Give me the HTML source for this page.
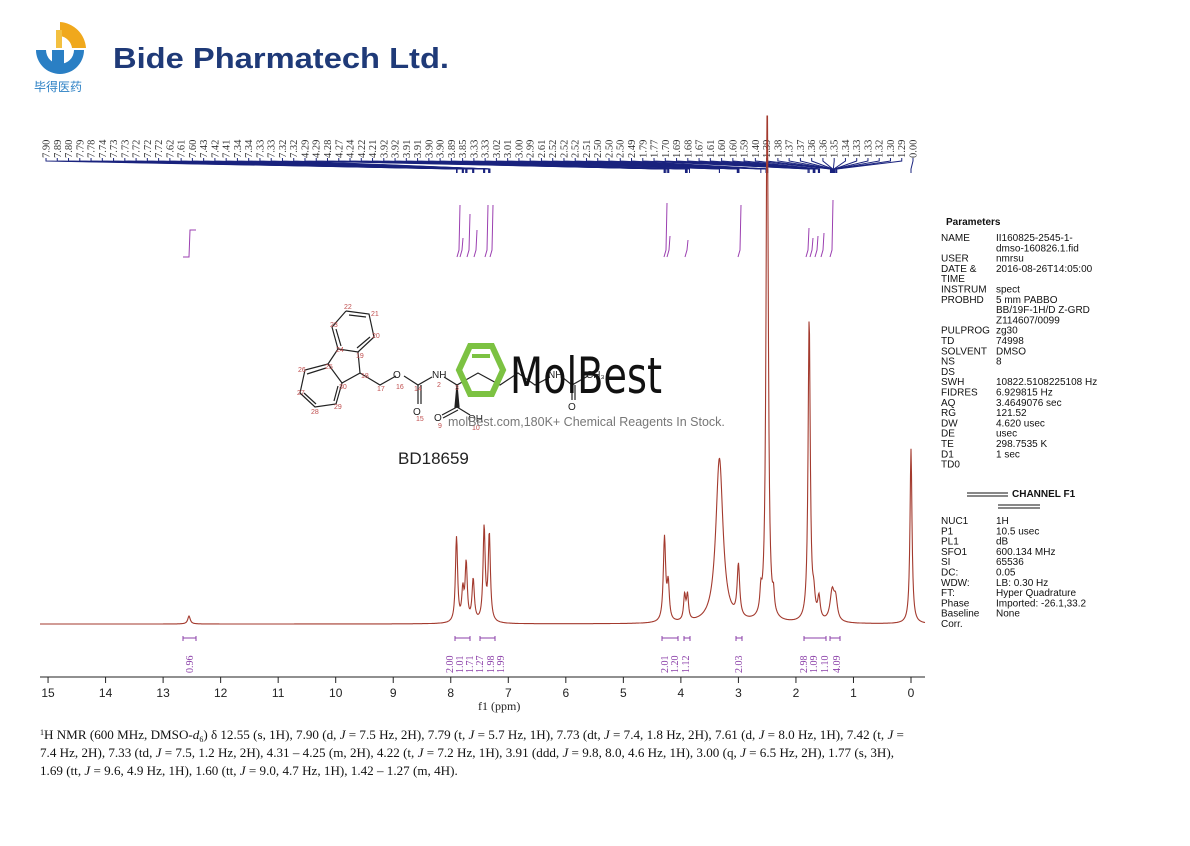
<!DOCTYPE html>
<html><head><meta charset="utf-8"><style>
body{margin:0;background:#fff;width:1190px;height:841px;overflow:hidden;font-family:"Liberation Sans",sans-serif}
</style></head><body>
<svg id="s" width="1190" height="841" xmlns="http://www.w3.org/2000/svg" font-family="Liberation Sans, sans-serif">
<g>
<path d="M36 50 A24 24 0 0 0 84 50 L74 50 A14 14 0 0 1 46 50 Z" fill="#2a7fc4"/>
<path d="M60 22 A28 28 0 0 1 86 48 L72 48 A14 14 0 0 0 60 36 Z" fill="#f0a81c"/>
<rect x="56" y="30" width="6" height="18" fill="#f3c040"/>
<rect x="52" y="50" width="12" height="16" fill="#2a7fc4"/>
<text x="34" y="91" font-size="12" fill="#2a7fc4" font-family="Noto Sans CJK SC, sans-serif">毕得医药</text>
<text x="113" y="68" font-size="29" font-weight="bold" fill="#1f3a78" textLength="336" lengthAdjust="spacingAndGlyphs">Bide Pharmatech Ltd.</text>
</g>
<g id="labels" font-family="Liberation Serif, serif" font-size="10.5" fill="#333"></g>
<g id="conn" stroke="#1a237e" stroke-width="1" fill="none"></g>
<g id="integ" stroke="#9b3fb0" stroke-width="1" fill="none"></g>
<g font-size="10" fill="#111" id="params"></g>
<g stroke="#222" stroke-width="1.2" fill="none">
<polyline points="346,311 369,314 374,337 358,352 338,349 332,327 346,311"/>
<line x1="349" y1="315" x2="366" y2="317"/><line x1="370" y1="337" x2="357" y2="348"/><line x1="336" y1="329" x2="341" y2="346"/>
<polyline points="358,352 360,373 342,383 328,364 338,349"/>
<polyline points="328,364 305,370 300,393 315,407 336,404 342,383"/>
<line x1="307" y1="374" x2="326" y2="368"/><line x1="304" y1="393" x2="316" y2="404"/><line x1="338" y1="386" x2="334" y2="401"/>
<polyline points="360,373 380,385 396,376"/>
<polyline points="404,376 418,385 432,377"/>
<line x1="418" y1="385" x2="418" y2="404"/><line x1="421" y1="385" x2="421" y2="404"/>
<polyline points="444,377 457,385 478,373 500,385 518,373 535,385 550,377"/>
<polygon points="457,385 455,407 459,407" fill="#222"/>
<line x1="457" y1="407" x2="442" y2="415"/><line x1="458" y1="410" x2="443" y2="418"/>
<line x1="457" y1="407" x2="470" y2="415"/>
<polyline points="562,377 572,385 588,376"/>
<line x1="572" y1="385" x2="572" y2="400"/><line x1="575" y1="385" x2="575" y2="400"/>
</g>
<g font-size="10" fill="#222">
<text x="393" y="378">O</text><text x="432" y="378">NH</text><text x="413" y="415">O</text><text x="434" y="421">O</text><text x="468" y="422">OH</text>
<text x="548" y="378">NH</text><text x="568" y="410">O</text><text x="586" y="378">CH₃</text>
</g>
<g font-size="7" fill="#c05050">
<text x="344" y="309">22</text><text x="371" y="316">21</text><text x="372" y="338">20</text><text x="356" y="358">19</text><text x="330" y="327">23</text><text x="336" y="352">24</text>
<text x="361" y="378">18</text><text x="325" y="369">25</text><text x="298" y="372">26</text><text x="297" y="395">27</text><text x="311" y="414">28</text><text x="334" y="409">29</text><text x="339" y="389">30</text>
<text x="377" y="391">17</text><text x="396" y="389">16</text><text x="414" y="391">14</text><text x="437" y="387">2</text><text x="416" y="421">15</text><text x="438" y="428">9</text><text x="472" y="430">10</text><text x="455" y="390">3</text>
</g>
<polygon points="470,346 492,346 503,370 492,394 470,394 459,370" fill="none" stroke="#7cc242" stroke-width="6"/>
<line x1="472" y1="356" x2="490" y2="356" stroke="#7cc242" stroke-width="4"/>
<text x="510" y="393" font-size="50" fill="#111" font-family="DejaVu Sans Condensed, DejaVu Sans, sans-serif" textLength="152" lengthAdjust="spacingAndGlyphs">MolBest</text>
<text x="448" y="426" font-size="12.5" fill="#777">molBest.com,180K+ Chemical Reagents In Stock.</text>
<text x="398" y="464" font-size="17" fill="#222">BD18659</text>
<line x1="40" y1="677" x2="925" y2="677" stroke="#222" stroke-width="1"/>
<g id="axis" font-size="12" fill="#222" text-anchor="middle"></g>
<text x="478" y="710" font-size="12" font-family="Liberation Serif, serif" fill="#222">f1 (ppm)</text>
<path id="spec" fill="none" stroke="#a33a2e" stroke-width="1.1"/>
<g id="ilab" font-family="Liberation Serif, serif" font-size="10" fill="#8b3fa8"></g>
<g font-family="Liberation Serif, serif" font-size="13.1" fill="#111">
<text x="40" y="739"><tspan font-size="8" dy="-4">1</tspan><tspan dy="4">H NMR (600 MHz, DMSO-</tspan><tspan font-style="italic">d</tspan><tspan font-size="8" dy="3">6</tspan><tspan dy="-3">) δ 12.55 (s, 1H), 7.90 (d, </tspan><tspan font-style="italic">J</tspan> = 7.5 Hz, 2H), 7.79 (t, <tspan font-style="italic">J</tspan> = 5.7 Hz, 1H), 7.73 (dt, <tspan font-style="italic">J</tspan> = 7.4, 1.8 Hz, 2H), 7.61 (d, <tspan font-style="italic">J</tspan> = 8.0 Hz, 1H), 7.42 (t, <tspan font-style="italic">J</tspan> =</text>
<text x="40" y="757">7.4 Hz, 2H), 7.33 (td, <tspan font-style="italic">J</tspan> = 7.5, 1.2 Hz, 2H), 4.31 – 4.25 (m, 2H), 4.22 (t, <tspan font-style="italic">J</tspan> = 7.2 Hz, 1H), 3.91 (ddd, <tspan font-style="italic">J</tspan> = 9.8, 8.0, 4.6 Hz, 1H), 3.00 (q, <tspan font-style="italic">J</tspan> = 6.5 Hz, 2H), 1.77 (s, 3H),</text>
<text x="40" y="775">1.69 (tt, <tspan font-style="italic">J</tspan> = 9.6, 4.9 Hz, 1H), 1.60 (tt, <tspan font-style="italic">J</tspan> = 9.0, 4.7 Hz, 1H), 1.42 – 1.27 (m, 4H).</text>
</g>
</svg>
<script>
var NS="http://www.w3.org/2000/svg";
function X(p){return 911-57.53*p;}
function el(t,a,par,txt){var e=document.createElementNS(NS,t);for(var k in a)e.setAttribute(k,a[k]);if(txt!=null)e.textContent=txt;document.getElementById(par).appendChild(e);return e;}
for(var i=0;i<=15;i++){var x=X(i);el('line',{x1:x,y1:677,x2:x,y2:683,stroke:'#222'},'axis');el('text',{x:x,y:697},'axis',String(i));}
var pk=[[12.55,8,1.5],[7.905,45,1.2],[7.895,45,1.2],[7.79,30,1.3],[7.735,40,1.2],[7.725,20,1.2],[7.61,42,1.4],[7.42,94,1.3],[7.33,87,1.3],[4.285,84,1.4],[4.22,36,1.3],[3.935,25,1.2],[3.885,25,1.2],[3.33,165,4.3],[3.00,52,1.5],[2.61,20,1.1],[2.50,560,1.3],[2.39,17,1],[1.77,304,1.3],[1.69,20,1.5],[1.60,22,1.5],[1.37,30,2.5],[1.31,20,2],[0.00,175,1.2]];
var d="";for(var x=40;x<=925;x+=0.5){var y=624;for(var j=0;j<pk.length;j++){var u=(x-X(pk[j][0]))/pk[j][2];y-=pk[j][1]/(1+u*u);}if(y<116)y=116;d+=(x==40?"M":"L")+x.toFixed(1)+" "+y.toFixed(1);}
document.getElementById('spec').setAttribute('d',d);
var L="7.90 7.89 7.80 7.79 7.78 7.74 7.73 7.73 7.72 7.72 7.72 7.62 7.61 7.60 7.43 7.42 7.41 7.34 7.34 7.33 7.33 7.32 7.32 4.29 4.29 4.28 4.27 4.24 4.22 4.21 3.92 3.92 3.91 3.91 3.90 3.90 3.89 3.85 3.33 3.33 3.02 3.01 3.00 2.99 2.61 2.52 2.52 2.52 2.51 2.50 2.50 2.50 2.49 1.79 1.77 1.70 1.69 1.68 1.67 1.61 1.60 1.60 1.59 1.40 1.39 1.38 1.37 1.37 1.36 1.36 1.35 1.34 1.33 1.33 1.32 1.30 1.29 0.00".split(" ");
var n=L.length;for(var i=0;i<n;i++){var xl=46+i*(913-46)/(n-1);var v=parseFloat(L[i]);
el('text',{x:0,y:0,transform:'translate('+(xl+3.5)+',158) rotate(-90)'},'labels',L[i]);
el('polyline',{points:xl+',158 '+xl+',161 '+X(v)+',169 '+X(v)+',173'},'conn');}
var ig=[[459,205],[462,238],[469,214],[476,230],[487,205],[492,205],[666,203],[669,236],[687,240],[740,205],[808,228],[812,238],[817,236],[823,233],[832,200]];
ig.forEach(function(a){el('path',{d:'M'+(a[0]-2)+' 257 L'+a[0]+' 250 L'+(a[0]+1)+' '+a[1]},'integ');});
el('polyline',{points:'183,257 189,257 190,230 196,230'},'integ');
var il=[[189,'0.96'],[449,'2.00'],[459,'1.01'],[469,'1.71'],[479,'1.27'],[490,'1.98'],[500,'1.99'],[664,'2.01'],[674,'1.20'],[685,'1.12'],[738,'2.03'],[803,'2.98'],[813,'1.09'],[824,'1.10'],[836,'4.09']];
il.forEach(function(a){el('text',{x:0,y:0,transform:'translate('+(a[0]+4)+',673) rotate(-90)'},'ilab',a[1]);});
[[183,196],[455,470],[480,495],[662,678],[684,690],[736,742],[804,826],[830,840]].forEach(function(b){el('path',{d:'M'+b[0]+' 641 L'+b[0]+' 636 M'+b[0]+' 638 L'+b[1]+' 638 M'+b[1]+' 641 L'+b[1]+' 636',stroke:'#8b3fa8',fill:'none'},'ilab');});
var P=[["NAME","II160825-2545-1-"],["","dmso-160826.1.fid"],["USER","nmrsu"],["DATE &","2016-08-26T14:05:00"],["TIME",""],["INSTRUM","spect"],["PROBHD","5 mm PABBO"],["","BB/19F-1H/D Z-GRD"],["","Z114607/0099"],["PULPROG","zg30"],["TD","74998"],["SOLVENT","DMSO"],["NS","8"],["DS",""],["SWH","10822.5108225108 Hz"],["FIDRES","6.929815 Hz"],["AQ","3.4649076 sec"],["RG","121.52"],["DW","4.620 usec"],["DE","usec"],["TE","298.7535 K"],["D1","1 sec"],["TD0",""]];
var y=241;P.forEach(function(r){el('text',{x:941,y:y},'params',r[0]);el('text',{x:996,y:y},'params',r[1]);y+=10.3;});
el('text',{x:946,y:225,'font-weight':'bold','font-size':'10'},'params','Parameters');
el('text',{x:1012,y:497,'font-weight':'bold','font-size':'10'},'params','CHANNEL F1');
el('path',{d:'M967 493H1008M967 496H1008M998 505H1040M998 508H1040',stroke:'#111',fill:'none'},'params');
var Q=[["NUC1","1H"],["P1","10.5 usec"],["PL1","dB"],["SFO1","600.134 MHz"],["SI","65536"],["DC:","0.05"],["WDW:","LB: 0.30 Hz"],["FT:","Hyper Quadrature"],["Phase","Imported: -26.1,33.2"],["Baseline","None"],["Corr.",""]];
y=524;Q.forEach(function(r){el('text',{x:941,y:y},'params',r[0]);el('text',{x:996,y:y},'params',r[1]);y+=10.3;});
</script>
</body></html>
